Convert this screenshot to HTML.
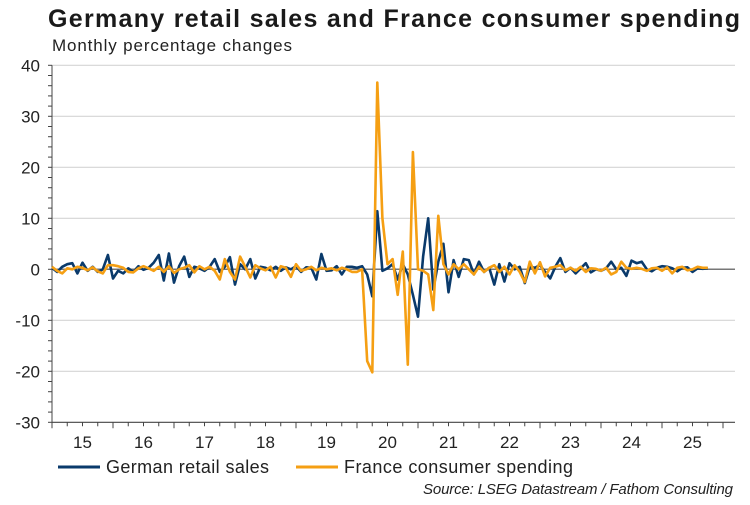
<!DOCTYPE html>
<html><head><meta charset="utf-8"><style>
body{margin:0;background:#fff;font-family:"Liberation Sans",Arial,sans-serif;}
</style></head><body>
<svg id="c" width="750" height="500" xmlns="http://www.w3.org/2000/svg" style="font-family:'Liberation Sans',Arial,sans-serif">
<text x="48" y="27" font-size="25" font-weight="bold" fill="#1a1a1a" textLength="692" lengthAdjust="spacing">Germany retail sales and France consumer spending</text>
<text x="52" y="51" font-size="17" fill="#222" textLength="240" lengthAdjust="spacing">Monthly percentage changes</text>
<g id="grid"></g><g id="axes"></g><g id="series"></g>
<g>
<line x1="58" y1="467" x2="100" y2="467" stroke="#0a3a6b" stroke-width="3"/>
<text x="106" y="473" font-size="18" fill="#222" textLength="163" lengthAdjust="spacing">German retail sales</text>
<line x1="296" y1="467" x2="338" y2="467" stroke="#f59f13" stroke-width="3"/>
<text x="344" y="473" font-size="18" fill="#222" textLength="229" lengthAdjust="spacing">France consumer spending</text>
</g>
<text x="733" y="494" font-size="15" font-style="italic" fill="#222" text-anchor="end" textLength="310" lengthAdjust="spacing">Source: LSEG Datastream / Fathom Consulting</text>
</svg>
<script>
const years=["15","16","17","18","19","20","21","22","23","24","25"];
const yTicks=[40,30,20,10,0,-10,-20,-30];
const german=[0.3,-0.5,0.5,1.0,1.2,-0.8,1.3,-0.3,0.5,-0.5,0.0,2.8,
-1.8,-0.3,-0.8,0.2,-0.5,0.6,-0.1,0.3,1.3,2.8,-2.2,3.1,
-2.6,0.6,2.5,-1.5,0.5,0.2,-0.3,0.5,2.0,-0.5,0.5,2.4,
-3.0,1.0,0.0,2.0,-1.8,0.5,0.3,-0.2,0.5,-0.3,0.4,0.0,
0.6,-0.5,0.4,0.3,-2.0,3.0,-0.3,-0.2,0.6,-1.0,0.5,0.5,
0.3,0.6,-1.0,-5.3,11.4,-0.3,0.2,1.0,-2.0,1.0,-1.0,-5.0,
-9.3,2.5,10.0,-4.0,1.5,5.0,-4.5,1.8,-1.5,2.0,1.8,-1.0,
1.5,-0.5,0.3,-3.0,1.0,-2.4,1.2,0.0,0.5,-2.7,0.5,0.3,
0.8,-0.5,-1.8,0.5,2.2,-0.5,0.3,-0.8,0.2,1.2,-0.6,0.0,
-0.3,0.2,1.5,0.0,0.3,-1.3,1.7,1.2,1.5,0.0,-0.4,0.3,
0.6,0.5,0.2,-0.4,0.3,0.4,-0.5,0.2,0.1,0.2];
const france=[0.5,-0.3,-0.8,0.2,0.0,0.5,0.3,-0.2,0.4,-0.4,-0.8,0.8,
0.8,0.6,0.3,-0.5,-0.6,0.2,0.6,0.2,-0.3,0.5,-0.5,0.6,
-0.7,0.0,0.3,0.8,-0.6,0.6,0.0,0.5,-0.3,-2.0,2.0,-0.5,
-2.0,2.5,0.5,-1.6,0.8,0.2,-0.2,0.5,-1.6,0.6,0.3,-1.5,
1.0,-0.3,0.0,0.5,-0.2,0.3,0.0,0.2,-0.2,0.3,0.0,-0.5,
-0.5,0.0,-18,-20.2,36.6,10,1,2,-5,3.5,-18.7,23,
0,-0.3,-1,-8,10.5,1,-1,1,0,1,0,-1,
0.5,-0.5,0.3,0.8,-0.5,0.5,-1,0.8,-0.5,-2.5,1.5,-0.8,
1.4,-1.4,0.3,0.5,0.8,-0.2,0.3,-0.3,0.5,-0.5,0.2,0.1,
-0.3,0.3,-1.0,-0.5,1.5,0.3,0.1,0.3,0.1,-0.3,0.2,0.3,
-0.3,0.4,-0.8,0.3,0.5,-0.2,0.0,0.5,0.3,0.3];
const NS="http://www.w3.org/2000/svg";
const X0=52,YW=61,Y0=269.3,PX10=51;
const x=i=>X0+i*YW/12;
const y=v=>Y0-v*PX10/10;
function mk(t,a,p){const e=document.createElementNS(NS,t);for(const k in a)e.setAttribute(k,a[k]);p.appendChild(e);return e;}
const grid=document.getElementById('grid'),axes=document.getElementById('axes'),ser=document.getElementById('series');
yTicks.forEach(v=>{
 if(v!==0&&v!==-30){const g=mk('line',{x1:X0,x2:735,y1:y(v),y2:y(v),stroke:'#d4d4d4','stroke-width':1.2},grid);
 
 }
 const t=mk('text',{x:40,y:y(v)+6,'font-size':17,'text-anchor':'end',fill:'#222'},axes);t.textContent=v;
 
 
});
for(let v=-30;v<=40;v+=2){mk('line',{x1:X0-4,x2:X0,y1:y(v),y2:y(v),stroke:'#444','stroke-width':1},axes);}
const yax=mk('line',{x1:X0,x2:X0,y1:y(40),y2:y(-30),stroke:'#444','stroke-width':1},axes);


const zl=mk('line',{x1:X0,x2:735,y1:y(0),y2:y(0),stroke:'#777','stroke-width':1.5},grid);


const xax=mk('line',{x1:X0,x2:735,y1:y(-30),y2:y(-30),stroke:'#444','stroke-width':1.2},axes);


for(let q=0;q<=years.length*4;q++){const xx=X0+q*YW/4;if(xx>735)break;
 mk('line',{x1:xx,x2:xx,y1:y(-30),y2:y(-30)+(q%4===0?6:4),stroke:'#444','stroke-width':1},axes);}
years.forEach((s,k)=>{const t=mk('text',{x:X0+k*YW+YW/2,y:448,'font-size':17,'text-anchor':'middle',fill:'#222'},axes);t.textContent=s;
 
 });
function line(d,c,n){const p=mk('polyline',{points:d.map((v,i)=>x(i).toFixed(1)+','+y(v).toFixed(1)).join(' '),fill:'none',stroke:c,'stroke-width':2.6,'stroke-linejoin':'round'},ser);
 
 }
line(german,'#0a3a6b','german-retail-sales-line');
line(france,'#f59f13','france-consumer-spending-line');
</script>
</body></html>
